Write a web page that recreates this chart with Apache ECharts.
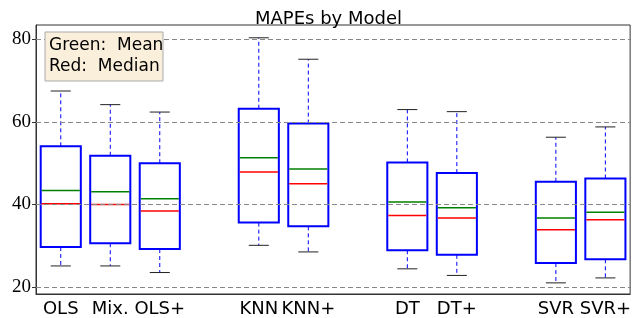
<!DOCTYPE html>
<html>
<head>
<meta charset="utf-8">
<script src="https://cdn.jsdelivr.net/npm/echarts@6/dist/echarts.min.js"></script>
<style>
  html, body { margin: 0; padding: 0; background: #fff; }
  #chart { width: 634px; height: 318px; }
</style>
</head>
<body>
<div id="chart"></div>
<script>
// 12 slots on the x axis, empty ones keep the gaps between model groups
const slots = ['OLS', 'Mix.', 'OLS+', '', 'KNN', 'KNN+', '', 'DT', 'DT+', '', 'SVR', 'SVR+'];
const slotIndex = [0, 1, 2, 4, 5, 7, 8, 10, 11];

// box statistics per model
const whiskerLow = [25.1, 25.1, 23.5, 30.1, 28.5, 24.4, 22.8, 21.0, 22.2];
const q1 = [29.7, 30.6, 29.2, 35.6, 34.7, 28.9, 27.8, 25.8, 26.7];
const median = [40.2, 40.0, 38.4, 47.9, 45.0, 37.3, 36.7, 33.9, 36.3];
const q3 = [54.1, 51.8, 50.0, 63.2, 59.6, 50.2, 47.6, 45.5, 46.3];
const whiskerHigh = [67.5, 64.2, 62.4, 80.4, 75.2, 63.0, 62.5, 56.3, 58.8];
const mean = [43.4, 43.1, 41.4, 51.3, 48.6, 40.6, 39.2, 36.7, 38.1];

const yTicks = [20, 40, 60, 80];

const rows = slotIndex.map((s, i) => [s, whiskerLow[i], q1[i], median[i], q3[i], whiskerHigh[i], mean[i]]);

const chart = echarts.init(document.getElementById('chart'));

const renderBox = (params, api) => {
    const x = api.value(0);
    const pLow = api.coord([x, api.value(1)]);
    const pQ1 = api.coord([x, api.value(2)]);
    const pMed = api.coord([x, api.value(3)]);
    const pQ3 = api.coord([x, api.value(4)]);
    const pHigh = api.coord([x, api.value(5)]);
    const pMean = api.coord([x, api.value(6)]);
    const w = api.size([1, 0])[0] * 0.81;
    const cx = pQ1[0];
    const capW = w / 2;
    const dash = { stroke: '#0000ff', lineWidth: 1, lineDash: [4, 3] };
    const cap = { stroke: '#222', lineWidth: 1 };
    return {
        type: 'group',
        children: [
            { type: 'line', shape: { x1: cx, y1: pQ3[1], x2: cx, y2: pHigh[1] }, style: dash },
            { type: 'line', shape: { x1: cx, y1: pQ1[1], x2: cx, y2: pLow[1] }, style: dash },
            { type: 'line', shape: { x1: cx - capW / 2, y1: pHigh[1], x2: cx + capW / 2, y2: pHigh[1] }, style: cap },
            { type: 'line', shape: { x1: cx - capW / 2, y1: pLow[1], x2: cx + capW / 2, y2: pLow[1] }, style: cap },
            {
                type: 'rect',
                shape: { x: cx - w / 2, y: pQ3[1], width: w, height: pQ1[1] - pQ3[1] },
                style: { fill: '#fff', stroke: '#0000ff', lineWidth: 2 }
            },
            { type: 'line', shape: { x1: cx - w / 2 + 1, y1: pMean[1], x2: cx + w / 2 - 1, y2: pMean[1] }, style: { stroke: '#008000', lineWidth: 1.5 } },
            { type: 'line', shape: { x1: cx - w / 2 + 1, y1: pMed[1], x2: cx + w / 2 - 1, y2: pMed[1] }, style: { stroke: '#ff0000', lineWidth: 1.5 } }
        ]
    };
};

chart.setOption({
    animation: false,
    title: {
        text: 'MAPEs by Model',
        left: 250,
        top: 5,
        textStyle: { fontFamily: 'DejaVu Sans', fontWeight: 'normal', fontSize: 18, color: '#000' }
    },
    grid: { left: 36, right: 3, top: 25, bottom: 24, show: true, borderColor: '#333', borderWidth: 1, backgroundColor: 'transparent' },
    xAxis: {
        type: 'category',
        data: slots,
        boundaryGap: true,
        axisLine: { lineStyle: { color: '#333', width: 1 } },
        axisTick: { alignWithLabel: true, lineStyle: { color: '#333' }, length: 4, interval: 0 },
        axisLabel: { interval: 0, color: '#000', fontFamily: 'DejaVu Sans', fontSize: 18, margin: 6 },
        splitLine: { show: false }
    },
    yAxis: {
        type: 'value',
        min: 18.3,
        max: 83.5,
        axisLine: { show: true, lineStyle: { color: '#333', width: 1 } },
        axisTick: { show: true, customValues: yTicks, length: 4, lineStyle: { color: '#333' } },
        axisLabel: { customValues: yTicks, color: '#000', fontFamily: 'Liberation Serif', fontSize: 19, margin: 5 },
        splitLine: { show: false }
    },
    graphic: [
        {
            type: 'rect',
            shape: { x: 45, y: 32, width: 118, height: 49 },
            style: { fill: '#faefda', stroke: '#aaa', lineWidth: 1 },
            z: 100
        },
        {
            type: 'text',
            x: 49,
            y: 35,
            style: { text: 'Green:  Mean\nRed:  Median', font: '17px "DejaVu Sans"', fill: '#000', lineHeight: 21 },
            z: 101
        }
    ],
    series: [
        {
            type: 'line',
            data: [],
            silent: true,
            markLine: {
                symbol: 'none',
                silent: true,
                label: { show: false },
                lineStyle: { color: '#888', type: [5, 3], width: 1 },
                data: yTicks.map(v => ({ yAxis: v }))
            }
        },
        {
            type: 'custom',
            renderItem: renderBox,
            encode: { x: 0, y: [1, 2, 3, 4, 5, 6] },
            data: rows,
            z: 3
        }
    ]
});
</script>
</body>
</html>
